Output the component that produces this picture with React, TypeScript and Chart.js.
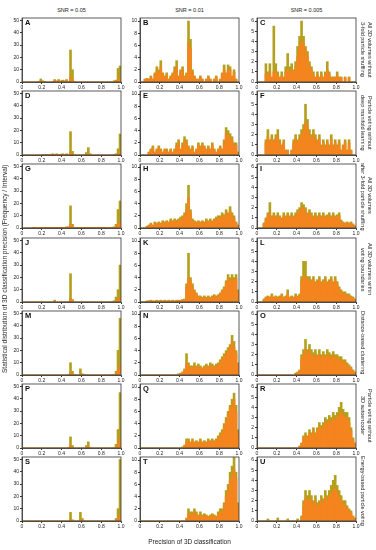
import React, { useEffect, useRef } from "react";
import { Chart, registerables } from "chart.js";
Chart.register(...registerables);

// ---------- axes / labels ----------
const BIN_COUNT = 50;
const X_TICKS = [0, 0.2, 0.4, 0.6, 0.8, 1.0];
const Y_TICKS_SNR_005 = [0, 10, 20, 30, 40, 50];
const Y_TICKS_SNR_001 = [0, 2, 4, 6, 8, 10];
const Y_TICKS_SNR_0005 = [0, 1, 2, 3, 4, 5, 6];
const Y_MAX = [52, 10.5, 6.3];
const COLUMN_TITLES = ["SNR = 0.05", "SNR = 0.01", "SNR = 0.005"];
const ROW_LABELS = [
  ["All 3D volumes without", "3-fold particle shuffling"],
  ["Particle voting without", "deep manifold learning"],
  ["All 3D volumes", "after 3-fold particle shuffling"],
  ["All 3D volumes within", "voting boundaries"],
  ["Distance-based clustering"],
  ["Particle voting without", "3D autoencoder"],
  ["Energy-based particle voting"],
];
const PANEL_LETTERS = ["A","B","C","D","E","F","G","H","I","J","K","L","M","N","O","P","Q","R","S","T","U"];
const Y_TITLE = "Statistical distribution of 3D classification precision (Frequency / Interval)";
const X_TITLE = "Precision of 3D classification";

// ---------- histogram values (50 bins of width 0.02 over 0..1) ----------
const OLIVE_A = [0,0,0,0,0,0,0,0,0.5,2.5, 1,0.5,0,0,0,0.5,2,1,2,1, 1.5,1,2,0.5,26,10,0.5,0,0,0, 0,0,0,0,0,0,0,0,0,0, 0,0,0,0,0,0,1,1.5,11,13];
const ORANGE_A = [0,0,0,0,0,0,0,0,0,1, 0.5,0,0,0,0,0,1,0.5,1,0.5, 0.5,0.5,1,0,4,2,0,0,0,0, 0,0,0,0,0,0,0,0,0,0, 0,0,0,0,0,0,0.5,0.5,2,3];
const OLIVE_B = [0,0,0.5,0.6,0.5,1,0.5,1.5,2.5,2, 3.5,1.5,1,1.5,0.5,1,1.5,2.5,3.5,1, 2,2.5,1,1.5,10,7,2,1,0.5,0.5, 1,0.5,0,0.5,1,0.5,0,0.5,1,0, 0.5,1.5,2.8,1.5,2.8,2.5,1,2,0.5,0];
const ORANGE_B = [0,0,0.4,0.5,0.4,0.8,0.4,1.2,1.8,1.6, 2.5,1.2,0.8,1.2,0.4,0.8,1.2,1.8,2.5,0.8, 1.6,2,0.8,1.2,6.5,5.5,1.6,0.8,0.4,0.4, 0.8,0.4,0,0.4,0.8,0.4,0,0.4,0.8,0, 0.4,1.2,2,1.2,2,2,0.8,1.6,0.4,0];
const OLIVE_C = [0,0,0,0,1.8,1,1.8,0.5,5.5,1.8, 1,0.5,1,0.5,1.5,2.8,1.5,1.8,1.2,2, 3.5,4.5,6,4.5,3.5,3,2,1.5,1,0.5, 1,0.5,1,0.5,1,2,1,0.5,0.5,0.5, 1,0.5,0.5,0,0.5,0,0.5,0,0,0];
const ORANGE_C = [0,0,0,0,0.8,0.6,1,0.4,1,1, 0.6,0.4,0.6,0.4,1,1.2,1,1.2,1,1.5, 2.5,3.5,4,3.8,3.2,2.5,1.6,1.2,0.7,0.4, 0.7,0.4,0.7,0.4,0.7,1.2,0.7,0.4,0.4,0.4, 0.7,0.4,0.4,0,0.4,0,0.4,0,0,0];
const OLIVE_D = [0,0,0,0,0,0,0,0,0,0, 0.5,0.3,0.5,0.3,0.5,1,0.5,1,0.5,0.5, 1,0.5,1,0.5,19,3,0.5,0,0,0, 0,0.5,2,6,1,0,0,0,0,0, 0,0,0,0,0,0,0.5,1,5,17];
const ORANGE_D = [0,0,0,0,0,0,0,0,0,0, 0.3,0,0.3,0,0.3,0.5,0.3,0.5,0.3,0.3, 0.5,0.3,0.5,0.3,2,1,0,0,0,0, 0,0,0.5,1,0.3,0,0,0,0,0, 0,0,0,0,0,0,0,0.3,1,2];
const OLIVE_E = [0,0,0,0,0.5,1,1.5,0.5,1,1.5, 1,0.5,1,1,0.5,1,0.5,1,2,2.5, 1,2,3,2.5,1.5,1,1.5,0.5,1,2, 1.5,2,1.5,1,1.5,1,2,1,0.5,1, 1.5,1,2.5,4.5,4,3.5,3,2,2,0.5];
const ORANGE_E = [0,0,0,0,0.4,0.8,1.2,0.4,0.8,1.2, 0.8,0.4,0.8,0.8,0.4,0.8,0.4,0.8,1.5,2, 0.8,1.6,2.4,2,1.2,0.8,1.2,0.4,0.8,1.6, 1.2,1.6,1.2,0.8,1.2,0.8,1.6,0.8,0.4,0.8, 1.2,0.8,2,3.5,3.2,2.8,2.4,1.6,1.6,0.4];
const OLIVE_F = [0,0,0,0,1.5,2.5,1.5,2,1.5,2, 2.5,1.5,1,1.5,0.5,0.5,0,0.5,1.5,2, 1.5,2,2.5,3,5,3.5,2.5,2,2.5,2, 1.5,2,1,1.5,1,1.5,1,2,1,1.5, 1,1.5,0.5,1,1.5,0.5,1.5,0.5,0,0];
const ORANGE_F = [0,0,0,0,1.2,1.8,1.2,1.6,1.2,1.6, 1.8,1.2,0.8,1.2,0.4,0.4,0,0.4,1.2,1.6, 1.2,1.6,2,2.4,3.2,2.8,2,1.6,2,1.6, 1.2,1.6,0.8,1.2,0.8,1.2,0.8,1.6,0.8,1.2, 0.8,1.2,0.4,0.8,1.2,0.4,1.2,0.4,0,0];
const OLIVE_G = [0,0,0,0,0,0.3,0.5,0.3,0.5,0.3, 0.5,0.3,0.5,0.3,0.5,0.5,0.3,0.5,0.3,0.5, 0.5,0.3,1,1,18,3,0.5,0.3,0.3,0.3, 0.3,0.3,0.3,0.3,0.3,0.3,0.3,0.3,0.3,0.3, 0.3,0.3,0.3,0.5,0.5,0.5,1,3,15,22];
const ORANGE_G = [0,0,0,0,0,0.2,0.3,0.2,0.3,0.2, 0.3,0.2,0.3,0.2,0.3,0.3,0.2,0.3,0.2,0.3, 0.3,0.2,0.5,0.5,3,1,0.3,0.2,0.2,0.2, 0.2,0.2,0.2,0.2,0.2,0.2,0.2,0.2,0.2,0.2, 0.2,0.2,0.2,0.3,0.3,0.3,0.5,1,3,5];
const OLIVE_H = [0,0,0,0.3,0.5,0.8,0.5,1,0.8,1, 0.8,1.2,1,1.2,1,1.5,1.2,1.5,1.3,1.5, 1.8,2,2.5,4,7,3,1.5,1.2,1,1.2, 1,1.2,1,1.5,1.2,1.5,1.2,1.5,1.8,2, 2,2.5,2.2,3,2.5,3.5,2.5,2,1,0.5];
const ORANGE_H = [0,0,0,0.2,0.4,0.6,0.4,0.8,0.6,0.8, 0.6,1,0.8,1,0.8,1.2,1,1.2,1,1.2, 1.5,1.6,2,3,5,2.5,1.2,1,0.8,1, 0.8,1,0.8,1.2,1,1.2,1,1.2,1.5,1.6, 1.6,2,1.8,2.5,2,2.8,2,1.6,0.8,0.4];
const OLIVE_I = [0,0,0,0.5,1,1.5,2.5,1.2,1.5,1.2, 1.5,1.2,1,1.5,1.2,1.5,1.2,1.5,1.2,1.5, 1.8,2,2.5,2.3,2,1.5,1.8,1.5,1.2,1.5, 1.2,1.5,1.2,1.5,1.2,1.3,1.5,1.2,1.5,1.2, 1.3,1.5,0.8,0.6,0.5,0.6,0.5,0.6,0.4,0.2];
const ORANGE_I = [0,0,0,0.4,0.8,1.2,1.5,1,1.2,1, 1.2,1,0.8,1.2,1,1.2,1,1.2,1,1.2, 1.5,1.7,2,2,1.7,1.2,1.5,1.2,1,1.2, 1,1.2,1,1.2,1,1.1,1.2,1,1.2,1, 1.1,1.2,0.6,0.5,0.4,0.5,0.4,0.5,0.3,0.2];
const OLIVE_J = [0,0,0,0,0,0,0,0,0,0, 0,0,0,0,0,0,1.5,0,0,0, 0,0,0,0.5,23,2,0,0,0,0, 0,0,0,0,0,0,0,0,0,0, 0,0,0,0,0,0.3,1,4,10,30];
const ORANGE_J = [0,0,0,0,0,0,0,0,0,0, 0,0,0,0,0,0,0.5,0,0,0, 0,0,0,0.3,3,1,0,0,0,0, 0,0,0,0,0,0,0,0,0,0, 0,0,0,0,0,0,0.5,1,2,4];
const OLIVE_K = [0,0,0,0.2,0.2,0.3,0.2,0.2,0.3,0.2, 0.3,0.2,0.3,0.2,0.3,0.2,0.3,0.2,0.3,0.3, 0.3,0.4,0.5,3,8,4,3,2,1.5,1, 1,0.8,1,0.8,1,0.8,1,1.2,1,1.2, 1.5,2,2.5,3.5,4.5,4,4.5,4,4.5,2];
const ORANGE_K = [0,0,0,0.1,0.1,0.2,0.1,0.1,0.2,0.1, 0.2,0.1,0.2,0.1,0.2,0.1,0.2,0.1,0.2,0.2, 0.2,0.3,0.4,2.5,4,3.5,2.5,1.7,1.2,0.8, 0.8,0.6,0.8,0.6,0.8,0.6,0.8,1,0.8,1, 1.2,1.7,2.2,3,3.8,3.5,3.8,3.5,3.8,1.6];
const OLIVE_L = [0,0,0,0.3,0.5,0.6,0.5,0.8,0.5,0.6, 0.5,0.6,0.8,0.5,0.6,1.2,0.5,0.6,0.5,0.8, 0.6,0.8,2.5,4,4,2.5,2.5,2.2,2.5,2, 2.2,2.5,2,2.2,2.5,2,2.2,2.5,2,2.5, 2,1.5,1.2,1,1,0.8,0.8,0.6,0.5,0.3];
const ORANGE_L = [0,0,0,0.2,0.4,0.5,0.4,0.6,0.4,0.5, 0.4,0.5,0.6,0.4,0.5,0.8,0.4,0.5,0.4,0.6, 0.5,0.6,2,2.5,2.5,2.2,2.2,2,2.2,1.8, 2,2.2,1.8,2,2.2,1.8,2,2.2,1.8,2.2, 1.8,1.3,1,0.8,0.8,0.6,0.6,0.5,0.4,0.2];
const OLIVE_M = [0,0,0,0,0,0,0,0,0,0, 0,0,0,0,0,0,0,0,0,0, 0,0,0,0.5,10,3,0.3,0,0,5, 1,0.3,0,0,0,0,0,0,0,0, 0,0,0,0,0,0.3,0.5,3,20,46];
const ORANGE_M = [0,0,0,0,0,0,0,0,0,0, 0,0,0,0,0,0,0,0,0,0, 0,0,0,0,2,0.5,0,0,0,1, 0.3,0,0,0,0,0,0,0,0,0, 0,0,0,0,0,0,0,0.5,4,8];
const OLIVE_N = [0,0,0,0,0,0,0,0,0,0, 0,0,0,0,0,0,0,0,0,0.2, 0.3,0.5,1,3.5,2,1.5,1.5,2,1.5,1.8, 1.5,1.2,1.5,1.8,1.5,2,1.8,1.5,1.8,2, 2.5,3,3.5,4,4.5,5,6.5,5.5,4,2];
const ORANGE_N = [0,0,0,0,0,0,0,0,0,0, 0,0,0,0,0,0,0,0,0,0.1, 0.2,0.4,0.8,2,1.5,1.2,1.2,1.5,1.2,1.4, 1.2,1,1.2,1.4,1.2,1.5,1.4,1.2,1.4,1.6, 2,2.5,3,3.5,4,4.5,5.5,4.5,3.5,1.8];
const OLIVE_O = [0,0,0,0,0,0,0,0,0,0, 0,0,0,0,0,0,0,0,0,0.2, 0.3,0.5,2,2.5,3.5,2.5,3,2.5,2.2,2.5, 2,2.5,2,2.3,2,2.5,2.2,2,2.3,2, 2,1.8,1.8,1.5,1.5,1.2,1,0.8,0.5,0.3];
const ORANGE_O = [0,0,0,0,0,0,0,0,0,0, 0,0,0,0,0,0,0,0,0,0.1, 0.2,0.4,1.6,2,2.5,2,2.4,2,1.8,2, 1.7,2,1.7,1.9,1.7,2,1.8,1.7,1.9,1.7, 1.7,1.5,1.5,1.2,1.2,1,0.8,0.6,0.4,0.2];
const OLIVE_P = [0,0,0,0,0,0,0,0,0,0, 0,0,0,0,0,0,0,0,0,0, 0,0,0,0.3,9,2,0,0,0,0, 0,0,2,5,0.5,0,0,0,0,0, 0,0,0,0,0,0,0.5,3,15,45];
const ORANGE_P = [0,0,0,0,0,0,0,0,0,0, 0,0,0,0,0,0,0,0,0,0, 0,0,0,0,2,0.5,0,0,0,0, 0,0,0.5,1,0,0,0,0,0,0, 0,0,0,0,0,0,0,0.5,3,8];
const OLIVE_Q = [0,0,0,0,0,0,0,0,0,0, 0,0,0,0,0,0,0,0,0,0, 0,0.2,0.5,1.5,1.5,1,1.5,1,1.2,1, 1.5,1,1.2,1,1.5,1.2,1.5,1.2,1.5,2, 2.5,3,4,5,6,7,8,9,7,3];
const ORANGE_Q = [0,0,0,0,0,0,0,0,0,0, 0,0,0,0,0,0,0,0,0,0, 0,0.1,0.3,1,1.2,0.8,1.2,0.8,1,0.8, 1.2,0.8,1,0.8,1.2,1,1.2,1,1.2,1.6, 2,2.5,3.5,4.5,5.5,6.5,7,8,6,2.5];
const OLIVE_R = [0,0,0,0,0,0,0,0,0,0, 0,0,0,0,0,0,0,0,0,0, 0,0.2,0.5,1.2,1.5,1.2,1.8,1.5,2,1.5, 2,2.5,2.2,2.5,3,2.8,3.2,3,3.5,3.2, 3.5,4,4.5,3.8,3.5,3.5,3,2,1,0.5];
const ORANGE_R = [0,0,0,0,0,0,0,0,0,0, 0,0,0,0,0,0,0,0,0,0, 0,0.1,0.4,1,1.2,1,1.5,1.2,1.7,1.3, 1.7,2.1,1.9,2.1,2.5,2.4,2.7,2.5,3,2.7, 3,3.3,3.5,3.2,3,3,2.5,1.7,0.8,0.4];
const OLIVE_S = [0,0,0,0,0,0,0,0,0,0, 0,0,0,0,0,0,0,0,0,0, 0,0,0,0,7,1,0,0,0,7, 2,0,0,0,0,0,0,0,0,0, 0,0,0,0,0,0,0,2,10,50];
const ORANGE_S = [0,0,0,0,0,0,0,0,0,0, 0,0,0,0,0,0,0,0,0,0, 0,0,0,0,1,0,0,0,0,1, 0.3,0,0,0,0,0,0,0,0,0, 0,0,0,0,0,0,0,0.3,2,5];
const OLIVE_T = [0,0,0,0,0,0,0,0,0,0, 0,0,0,0,0,0,0,0,0,0, 0,0,0,0.5,2,1.5,1.5,2,1.5,1, 1.5,1,1.2,1,0.8,1,1.2,1,0.8,1.5, 2,2,3,5,6,8,9,10.5,8,3];
const ORANGE_T = [0,0,0,0,0,0,0,0,0,0, 0,0,0,0,0,0,0,0,0,0, 0,0,0,0.3,1.2,1,1,1.5,1,0.8, 1,0.8,0.8,0.8,0.6,0.8,1,0.8,0.6,1, 1.5,1.5,2.5,4,5,6.5,7.5,8.5,7,2.5];
const OLIVE_U = [0,0,0,0,0,0.2,0,0,0,0, 0.3,0,0,0,0,0.2,0,0,0,0, 0.2,0,0.5,2,3,2.5,3,2.5,2,2.5, 1.8,2,2.5,2.2,3,2.5,3,3.5,4,4.5, 3.5,3,2.5,2,2,1.5,1.2,1,0.5,0.3];
const ORANGE_U = [0,0,0,0,0,0,0,0,0,0, 0,0,0,0,0,0,0,0,0,0, 0,0,0.3,1.5,2.2,2,2.3,2,1.6,2, 1.5,1.6,2,1.8,2.4,2,2.4,2.8,3,3.2, 2.8,2.4,2,1.6,1.6,1.2,1,0.8,0.4,0.2];

const OLIVE_SERIES = [OLIVE_A,OLIVE_B,OLIVE_C,OLIVE_D,OLIVE_E,OLIVE_F,OLIVE_G,OLIVE_H,OLIVE_I,OLIVE_J,OLIVE_K,OLIVE_L,OLIVE_M,OLIVE_N,OLIVE_O,OLIVE_P,OLIVE_Q,OLIVE_R,OLIVE_S,OLIVE_T,OLIVE_U];
const ORANGE_SERIES = [ORANGE_A,ORANGE_B,ORANGE_C,ORANGE_D,ORANGE_E,ORANGE_F,ORANGE_G,ORANGE_H,ORANGE_I,ORANGE_J,ORANGE_K,ORANGE_L,ORANGE_M,ORANGE_N,ORANGE_O,ORANGE_P,ORANGE_Q,ORANGE_R,ORANGE_S,ORANGE_T,ORANGE_U];
const Y_TICKS = [Y_TICKS_SNR_005, Y_TICKS_SNR_001, Y_TICKS_SNR_0005];

// ---------- layout / style ----------
const FONT = "'Liberation Sans', Arial, sans-serif";
const ORANGE = "#f4841e";
const OLIVE = "#b3a01c";
const AXIS = "#333333";
const COL_LEFT = [22, 140, 257];
const PLOT_W = 99;
const PLOT_H = 65;
const ROW_TOP0 = 17;
const ROW_PITCH = 73.2;
const PAD_L = 17, PAD_T = 3, PAD_R = 6, PAD_B = 10;

const boxPlugin = {
  id: "frameBox",
  afterDraw(chart: any) {
    const { ctx, chartArea } = chart;
    ctx.save();
    ctx.strokeStyle = AXIS;
    ctx.lineWidth = 0.8;
    ctx.strokeRect(chartArea.left, chartArea.top, chartArea.right - chartArea.left, chartArea.bottom - chartArea.top);
    ctx.restore();
  },
};

function Panel({ idx }: { idx: number }) {
  const ref = useRef<HTMLCanvasElement>(null);
  const col = idx % 3;
  const row = Math.floor(idx / 3);
  const boxTop = Math.round(ROW_TOP0 + ROW_PITCH * row);
  const left = COL_LEFT[col] - PAD_L;
  const top = boxTop - PAD_T;
  const w = PAD_L + PLOT_W + PAD_R;
  const h = PAD_T + PLOT_H + PAD_B;

  useEffect(() => {
    const centers = OLIVE_SERIES[idx].map((_, i) => (i + 0.5) / BIN_COUNT);
    const tickFont = { family: FONT, size: 5 };
    const chart = new Chart(ref.current as HTMLCanvasElement, {
      type: "bar",
      data: {
        datasets: [
          {
            label: "orange",
            data: ORANGE_SERIES[idx].map((y, i) => ({ x: centers[i], y })),
            backgroundColor: ORANGE,
            borderWidth: 0,
            barPercentage: 1,
            categoryPercentage: 1,
            grouped: false,
          } as any,
          {
            label: "olive",
            data: OLIVE_SERIES[idx].map((y, i) => ({ x: centers[i], y })),
            backgroundColor: OLIVE,
            borderWidth: 0,
            barPercentage: 1,
            categoryPercentage: 1,
            grouped: false,
          } as any,
        ],
      },
      options: {
        responsive: false,
        animation: false,
        devicePixelRatio: 1,
        layout: { padding: { left: 0, right: PAD_R, top: PAD_T, bottom: 0 } },
        plugins: { legend: { display: false }, tooltip: { enabled: false } },
        scales: {
          x: {
            type: "linear",
            min: 0,
            max: 1,
            offset: false,
            afterFit: (s: any) => { s.height = PAD_B; },
            afterBuildTicks: (s: any) => { s.ticks = X_TICKS.map((v) => ({ value: v })); },
            ticks: {
              font: tickFont,
              color: "#222",
              padding: 1,
              maxRotation: 0,
              autoSkip: false,
              callback: (v: any) => (Number(v) === 0 ? "0" : Number(v).toFixed(1)),
            },
            grid: { display: true, drawOnChartArea: false, tickLength: 2, color: AXIS, offset: false },
            border: { color: AXIS, width: 0.8 },
          },
          y: {
            min: 0,
            max: Y_MAX[col],
            afterFit: (s: any) => { s.width = PAD_L; },
            afterBuildTicks: (s: any) => { s.ticks = Y_TICKS[col].map((v) => ({ value: v })); },
            ticks: { font: tickFont, color: "#222", padding: 1, autoSkip: false },
            grid: { display: true, drawOnChartArea: false, tickLength: 2, color: AXIS },
            border: { color: AXIS, width: 0.8 },
          },
        },
      } as any,
      plugins: [boxPlugin],
    });
    return () => chart.destroy();
  }, [idx, col]);

  return (
    <>
      <canvas
        ref={ref}
        width={w}
        height={h}
        style={{ position: "absolute", left, top, width: w, height: h }}
      />
      <div
        style={{
          position: "absolute",
          left: COL_LEFT[col] + 3,
          top: boxTop + 1,
          fontFamily: FONT,
          fontWeight: "bold",
          fontSize: 7.5,
          lineHeight: "9px",
          color: "#111",
        }}
      >
        {PANEL_LETTERS[idx]}
      </div>
    </>
  );
}

export default function App() {
  const panels = PANEL_LETTERS.map((_, i) => <Panel key={i} idx={i} />);
  return (
    <div
      style={{
        position: "absolute",
        left: 0,
        top: 0,
        width: 376,
        height: 550,
        background: "#fff",
        fontFamily: FONT,
        overflow: "hidden",
      }}
    >
      {COLUMN_TITLES.map((t, c) => (
        <div
          key={t}
          style={{
            position: "absolute",
            left: COL_LEFT[c],
            top: 7,
            width: PLOT_W,
            textAlign: "center",
            fontSize: 5.5,
            lineHeight: "7px",
            color: "#222",
          }}
        >
          {t}
        </div>
      ))}
      {panels}
      {ROW_LABELS.map((lines, r) => (
        <div
          key={r}
          style={{
            position: "absolute",
            left: 359,
            top: Math.round(ROW_TOP0 + ROW_PITCH * r),
            height: PLOT_H,
            writingMode: "vertical-rl",
            textAlign: "center",
            fontSize: 5.5,
            lineHeight: "7px",
            color: "#222",
            whiteSpace: "nowrap",
          }}
        >
          {lines.map((l, k) => (
            <React.Fragment key={k}>
              {l}
              {k < lines.length - 1 ? <br /> : null}
            </React.Fragment>
          ))}
        </div>
      ))}
      <div
        style={{
          position: "absolute",
          left: 1,
          top: ROW_TOP0,
          height: Math.round(ROW_PITCH * 6) + PLOT_H,
          writingMode: "vertical-rl",
          transform: "rotate(180deg)",
          textAlign: "center",
          fontSize: 6.5,
          lineHeight: "8px",
          color: "#222",
          whiteSpace: "nowrap",
        }}
      >
        {Y_TITLE}
      </div>
      <div
        style={{
          position: "absolute",
          left: COL_LEFT[1],
          top: 538,
          width: PLOT_W,
          textAlign: "center",
          fontSize: 6.5,
          lineHeight: "8px",
          color: "#222",
          whiteSpace: "nowrap",
        }}
      >
        {X_TITLE}
      </div>
    </div>
  );
}
